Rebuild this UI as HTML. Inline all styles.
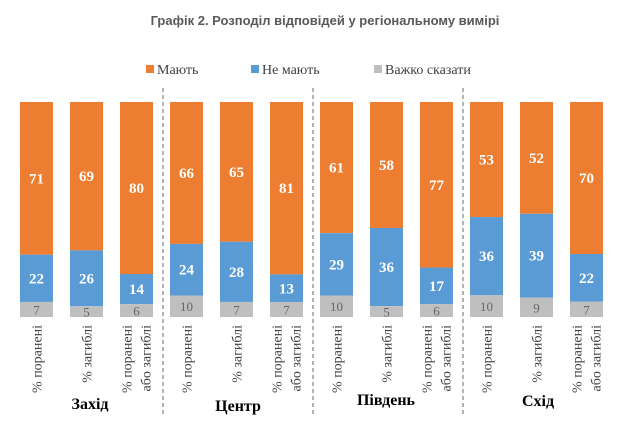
<!DOCTYPE html>
<html><head><meta charset="utf-8"><style>body{margin:0;background:#fff}</style></head><body>
<svg width="619" height="429" xmlns="http://www.w3.org/2000/svg">
<text x="325" y="25" text-anchor="middle" font-family="Liberation Sans, sans-serif" font-weight="bold" font-size="13" fill="#595959">Графік 2. Розподіл відповідей у регіональному вимірі</text>
<g font-family="Liberation Serif, serif" font-size="14" fill="#404040">
<rect x="146" y="65" width="8" height="8" fill="#ED7D31"/><text x="157" y="74">Мають</text>
<rect x="251" y="65" width="8" height="8" fill="#5B9BD5"/><text x="262" y="74">Не мають</text>
<rect x="374" y="65" width="8" height="8" fill="#BFBFBF"/><text x="385" y="74">Важко сказати</text>
</g>
<g stroke="#808080" stroke-dasharray="4,3" stroke-width="1.2">
<line x1="163" y1="88" x2="163" y2="415"/><line x1="313" y1="88" x2="313" y2="415"/><line x1="463" y1="88" x2="463" y2="415"/>
</g>
<g fill="#ED7D31">
<rect x="20" y="102" width="33" height="152.65"/>
<rect x="70" y="102" width="33" height="148.35"/>
<rect x="120" y="102" width="33" height="172"/>
<rect x="170" y="102" width="33" height="141.9"/>
<rect x="220" y="102" width="33" height="139.75"/>
<rect x="270" y="102" width="33" height="172.4"/>
<rect x="320" y="102" width="33" height="131.15"/>
<rect x="370" y="102" width="33" height="125.96"/>
<rect x="420" y="102" width="33" height="165.55"/>
<rect x="470" y="102" width="33" height="115.1"/>
<rect x="520" y="102" width="33" height="111.8"/>
<rect x="570" y="102" width="33" height="152.02"/>
</g>
<g fill="#5B9BD5">
<rect x="20" y="254.65" width="33" height="47.3"/>
<rect x="70" y="250.35" width="33" height="55.9"/>
<rect x="120" y="274" width="33" height="30.1"/>
<rect x="170" y="243.9" width="33" height="51.6"/>
<rect x="220" y="241.75" width="33" height="60.2"/>
<rect x="270" y="274.4" width="33" height="27.7"/>
<rect x="320" y="233.15" width="33" height="62.35"/>
<rect x="370" y="227.96" width="33" height="78.18"/>
<rect x="420" y="267.55" width="33" height="36.55"/>
<rect x="470" y="217.1" width="33" height="78.18"/>
<rect x="520" y="213.8" width="33" height="83.85"/>
<rect x="570" y="254.02" width="33" height="47.78"/>
</g>
<g fill="#BFBFBF">
<rect x="20" y="301.95" width="33" height="15.05"/>
<rect x="70" y="306.25" width="33" height="10.75"/>
<rect x="120" y="304.1" width="33" height="12.9"/>
<rect x="170" y="295.5" width="33" height="21.5"/>
<rect x="220" y="301.95" width="33" height="15.05"/>
<rect x="270" y="302.1" width="33" height="14.9"/>
<rect x="320" y="295.5" width="33" height="21.5"/>
<rect x="370" y="306.14" width="33" height="10.86"/>
<rect x="420" y="304.1" width="33" height="12.9"/>
<rect x="470" y="295.28" width="33" height="21.72"/>
<rect x="520" y="297.65" width="33" height="19.35"/>
<rect x="570" y="301.8" width="33" height="15.2"/>
</g>
<g font-family="Liberation Serif, serif" font-weight="bold" font-size="15" fill="#fff" text-anchor="middle">
<text x="36.5" y="183.3">71</text><text x="36.5" y="283.3">22</text>
<text x="86.5" y="181.2">69</text><text x="86.5" y="283.3">26</text>
<text x="136.5" y="193">80</text><text x="136.5" y="294">14</text>
<text x="186.5" y="178">66</text><text x="186.5" y="274.7">24</text>
<text x="236.5" y="176.9">65</text><text x="236.5" y="276.9">28</text>
<text x="286.5" y="193.2">81</text><text x="286.5" y="293.3">13</text>
<text x="336.5" y="172.6">61</text><text x="336.5" y="269.3">29</text>
<text x="386.5" y="170">58</text><text x="386.5" y="272">36</text>
<text x="436.5" y="189.8">77</text><text x="436.5" y="290.8">17</text>
<text x="486.5" y="164.6">53</text><text x="486.5" y="261.2">36</text>
<text x="536.5" y="162.9">52</text><text x="536.5" y="260.7">39</text>
<text x="586.5" y="183">70</text><text x="586.5" y="282.9">22</text>
</g>
<g font-family="Liberation Serif, serif" font-size="13" fill="#666" text-anchor="middle">
<text x="36.5" y="314.5">7</text><text x="86.5" y="316.6">5</text><text x="136.5" y="315.5">6</text>
<text x="186.5" y="311.2">10</text><text x="236.5" y="314.5">7</text><text x="286.5" y="314.5">7</text>
<text x="336.5" y="311.2">10</text><text x="386.5" y="316.6">5</text><text x="436.5" y="315.5">6</text>
<text x="486.5" y="311.1">10</text><text x="536.5" y="312.3">9</text><text x="586.5" y="314.4">7</text>
</g>
<g font-family="Liberation Serif, serif" font-size="14" fill="#404040" text-anchor="end">
<text transform="translate(41.5,325) rotate(-90)">% поранені</text>
<text transform="translate(91.5,325) rotate(-90)">% загиблі</text>
<text transform="translate(131.5,325) rotate(-90)">% поранені</text>
<text transform="translate(150.5,325) rotate(-90)">або загиблі</text>
<text transform="translate(191.5,325) rotate(-90)">% поранені</text>
<text transform="translate(241.5,325) rotate(-90)">% загиблі</text>
<text transform="translate(281.5,325) rotate(-90)">% поранені</text>
<text transform="translate(300.5,325) rotate(-90)">або загиблі</text>
<text transform="translate(341.5,325) rotate(-90)">% поранені</text>
<text transform="translate(391.5,325) rotate(-90)">% загиблі</text>
<text transform="translate(431.5,325) rotate(-90)">% поранені</text>
<text transform="translate(450.5,325) rotate(-90)">або загиблі</text>
<text transform="translate(491.5,325) rotate(-90)">% поранені</text>
<text transform="translate(541.5,325) rotate(-90)">% загиблі</text>
<text transform="translate(581.5,325) rotate(-90)">% поранені</text>
<text transform="translate(600.5,325) rotate(-90)">або загиблі</text>
</g>
<g font-family="Liberation Serif, serif" font-weight="bold" font-size="16" fill="#000" text-anchor="middle">
<text x="90" y="409">Захід</text><text x="238" y="411">Центр</text><text x="386" y="405">Південь</text><text x="538" y="406">Схід</text>
</g>
</svg>
</body></html>
